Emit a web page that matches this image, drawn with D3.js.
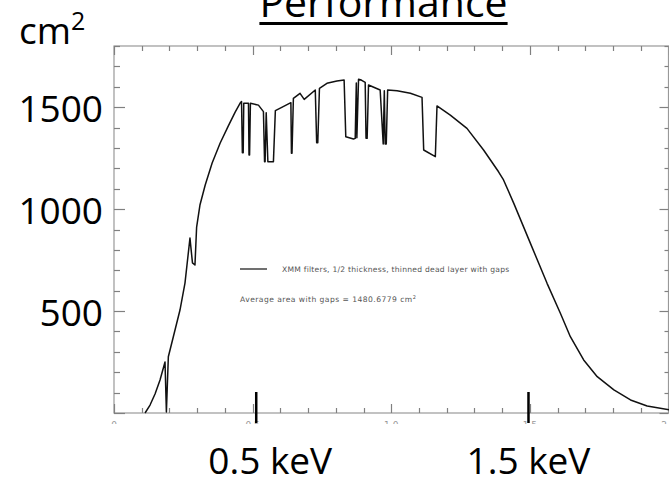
<!DOCTYPE html>
<html>
<head>
<meta charset="utf-8">
<script src="https://cdnjs.cloudflare.com/ajax/libs/d3/7.8.5/d3.min.js"></script>
<style>
	body { margin: 0; background: #fff; }
	svg { display: block; }
</style>
</head>
<body>
<div id="svg"></div>
<script>
// energy (keV) and effective area (cm2)
var energyKeV = [0.112, 0.130, 0.148, 0.166, 0.184, 0.189, 0.196, 0.214, 0.238, 0.256,
	0.274, 0.283, 0.292, 0.298, 0.310, 0.329, 0.354, 0.383, 0.412, 0.437,
	0.455, 0.460, 0.463, 0.466, 0.468, 0.485, 0.487, 0.489, 0.492, 0.521,
	0.539, 0.543, 0.545, 0.549, 0.555, 0.575, 0.582, 0.605, 0.638, 0.640,
	0.642, 0.647, 0.671, 0.686, 0.726, 0.731, 0.735, 0.741, 0.768, 0.804,
	0.830, 0.836, 0.864, 0.870, 0.874, 0.876, 0.882, 0.892, 0.906, 0.909,
	0.913, 0.918, 0.960, 0.971, 0.975, 0.978, 0.982, 0.987, 1.021, 1.069,
	1.111, 1.117, 1.159, 1.165, 1.213, 1.273, 1.333, 1.387, 1.405, 1.442,
	1.502, 1.562, 1.610, 1.646, 1.694, 1.743, 1.803, 1.863, 1.923, 2.004];
var areaCm2 = [0, 39, 93, 162, 250, 5, 276, 374, 505, 637,
	858, 736, 726, 912, 1020, 1118, 1226, 1324, 1407, 1476,
	1520, 1528, 1277, 1277, 1519, 1519, 1265, 1265, 1519, 1510,
	1478, 1232, 1232, 1473, 1232, 1232, 1483, 1499, 1522, 1274,
	1274, 1543, 1568, 1538, 1584, 1326, 1326, 1592, 1617, 1628,
	1633, 1355, 1344, 1347, 1618, 1350, 1637, 1633, 1622, 1347,
	1347, 1609, 1584, 1319, 1580, 1319, 1319, 1584, 1581, 1568,
	1548, 1290, 1257, 1506, 1461, 1396, 1290, 1183, 1143, 1028,
	832, 636, 489, 374, 260, 178, 113, 64, 34, 15];

var yLabels = [500, 1000, 1500];
var xTickLabels = ["0", "0.5", "1.0", "1.5", "2.0"];
var markerKeV = [0.513, 1.495];
var markerLabels = ["0.5 keV", "1.5 keV"];
var legendText = "XMM filters, 1/2 thickness, thinned dead layer with gaps";
var averageText = "Average area with gaps = 1480.6779 cm";

function draw() {
	var svg = d3.select("div#svg").append("svg")
		.attr("width", 669)
		.attr("height", 481);

	var x = d3.scaleLinear().domain([0, 2]).range([114, 668.5]);
	var y = d3.scaleLinear().domain([0, 1800]).range([413, 46]);
	var x0 = x.range()[0], x1 = x.range()[1], y0 = y.range()[0], y1 = y.range()[1];

	var grey = "#808080";

	// frame
	svg.append("rect")
		.attr("x", x0).attr("y", y1)
		.attr("width", x1 - x0).attr("height", y0 - y1)
		.attr("fill", "none")
		.attr("stroke", "#999").attr("stroke-width", 1.2);

	// IDL style ticks, pointing inward on all four sides
	var xTicks = d3.range(0, 21).map(function(i) { return { v: i / 10, major: i % 5 == 0 }; });
	var yTicks = d3.range(0, 19).map(function(i) { return { v: i * 100, major: i % 5 == 0 }; });
	var ticks = svg.append("g").attr("stroke", grey).attr("stroke-width", 1.2);

	ticks.selectAll("line.xb").data(xTicks).enter().append("line")
		.attr("class", "xb")
		.attr("x1", function(d) { return Math.round(x(d.v)) + 0.5; })
		.attr("x2", function(d) { return Math.round(x(d.v)) + 0.5; })
		.attr("y1", y0)
		.attr("y2", function(d) { return y0 - (d.major ? 9 : 5); });
	ticks.selectAll("line.xt").data(xTicks).enter().append("line")
		.attr("class", "xt")
		.attr("x1", function(d) { return Math.round(x(d.v)) + 0.5; })
		.attr("x2", function(d) { return Math.round(x(d.v)) + 0.5; })
		.attr("y1", y1)
		.attr("y2", function(d) { return y1 + (d.major ? 9 : 5); });
	ticks.selectAll("line.yl").data(yTicks).enter().append("line")
		.attr("class", "yl")
		.attr("y1", function(d) { return Math.round(y(d.v)) + 0.5; })
		.attr("y2", function(d) { return Math.round(y(d.v)) + 0.5; })
		.attr("x1", x0)
		.attr("x2", function(d) { return x0 + (d.major ? 11 : 6); });
	ticks.selectAll("line.yr").data(yTicks).enter().append("line")
		.attr("class", "yr")
		.attr("y1", function(d) { return Math.round(y(d.v)) + 0.5; })
		.attr("y2", function(d) { return Math.round(y(d.v)) + 0.5; })
		.attr("x1", x1)
		.attr("x2", function(d) { return x1 - (d.major ? 9 : 4); });

	// the plot's own tick labels, cut off by the image edge
	svg.append("defs").append("clipPath").attr("id", "cut")
		.append("rect").attr("x", 100).attr("y", 0).attr("width", 569).attr("height", 424);
	svg.append("g").attr("clip-path", "url(#cut)")
		.selectAll("text").data(xTickLabels).enter().append("text")
		.attr("x", function(d, i) { return x(i * 0.5); })
		.attr("y", 428)
		.attr("text-anchor", "middle")
		.attr("font-family", "DejaVu Sans")
		.attr("font-size", 9)
		.attr("fill", "#999")
		.text(function(d) { return d; });

	// the curve
	var pts = energyKeV.map(function(e, i) { return [e, areaCm2[i]]; });
	var line = d3.line()
		.x(function(d) { return x(d[0]); })
		.y(function(d) { return y(d[1]); });
	svg.append("path")
		.datum(pts)
		.attr("d", line)
		.attr("fill", "none")
		.attr("stroke", "#111")
		.attr("stroke-width", 1.5)
		.attr("stroke-linejoin", "round");

	// legend inside the plot
	svg.append("line")
		.attr("x1", 240).attr("x2", 267)
		.attr("y1", 269).attr("y2", 269)
		.attr("stroke", "#222").attr("stroke-width", 1.3);
	svg.append("text")
		.attr("x", 282).attr("y", 271.5)
		.attr("font-family", "DejaVu Sans")
		.attr("font-size", 7.6)
		.attr("letter-spacing", 0.25)
		.attr("fill", "#555")
		.text(legendText);
	var avg = svg.append("text")
		.attr("x", 240).attr("y", 301.5)
		.attr("font-family", "DejaVu Sans")
		.attr("font-size", 7.6)
		.attr("letter-spacing", 0.45)
		.attr("fill", "#555")
		.text(averageText);
	avg.append("tspan").attr("dy", -3).attr("font-size", 5).text("2");

	// slide text
	var big = "'Open Sans', 'Noto Sans', sans-serif";
	var title = svg.append("text")
		.attr("x", 383.5).attr("y", 17)
		.attr("text-anchor", "middle")
		.attr("font-family", big)
		.attr("font-size", 41)
		.attr("fill", "#000")
		.text("Performance");
	var bb = title.node().getBBox();
	svg.append("line")
		.attr("x1", bb.x).attr("x2", bb.x + bb.width)
		.attr("y1", 23.5).attr("y2", 23.5)
		.attr("stroke", "#000").attr("stroke-width", 3);

	var unit = svg.append("text")
		.attr("x", 19).attr("y", 44)
		.attr("font-family", big)
		.attr("font-size", 37)
		.attr("fill", "#000")
		.text("cm");
	unit.append("tspan").attr("dy", -14).attr("font-size", 25).text("2");

	svg.selectAll("text.ylab").data(yLabels).enter().append("text")
		.attr("class", "ylab")
		.attr("x", 103)
		.attr("y", function(d) { return y(d) + 15; })
		.attr("text-anchor", "end")
		.attr("font-family", big)
		.attr("font-size", 37)
		.attr("fill", "#000")
		.text(function(d) { return d; });

	// energy markers
	svg.selectAll("line.mark").data(markerKeV).enter().append("line")
		.attr("class", "mark")
		.attr("x1", function(d) { return x(d); })
		.attr("x2", function(d) { return x(d); })
		.attr("y1", 392).attr("y2", 423)
		.attr("stroke", "#000").attr("stroke-width", 2.5);
	svg.selectAll("text.mlab").data(markerKeV).enter().append("text")
		.attr("class", "mlab")
		.attr("x", function(d, i) { return x(d) + (i == 0 ? 14 : 0); })
		.attr("y", 474)
		.attr("text-anchor", "middle")
		.attr("font-family", big)
		.attr("font-size", 37)
		.attr("fill", "#000")
		.text(function(d, i) { return markerLabels[i]; });
}
draw();
</script>
</body>
</html>
